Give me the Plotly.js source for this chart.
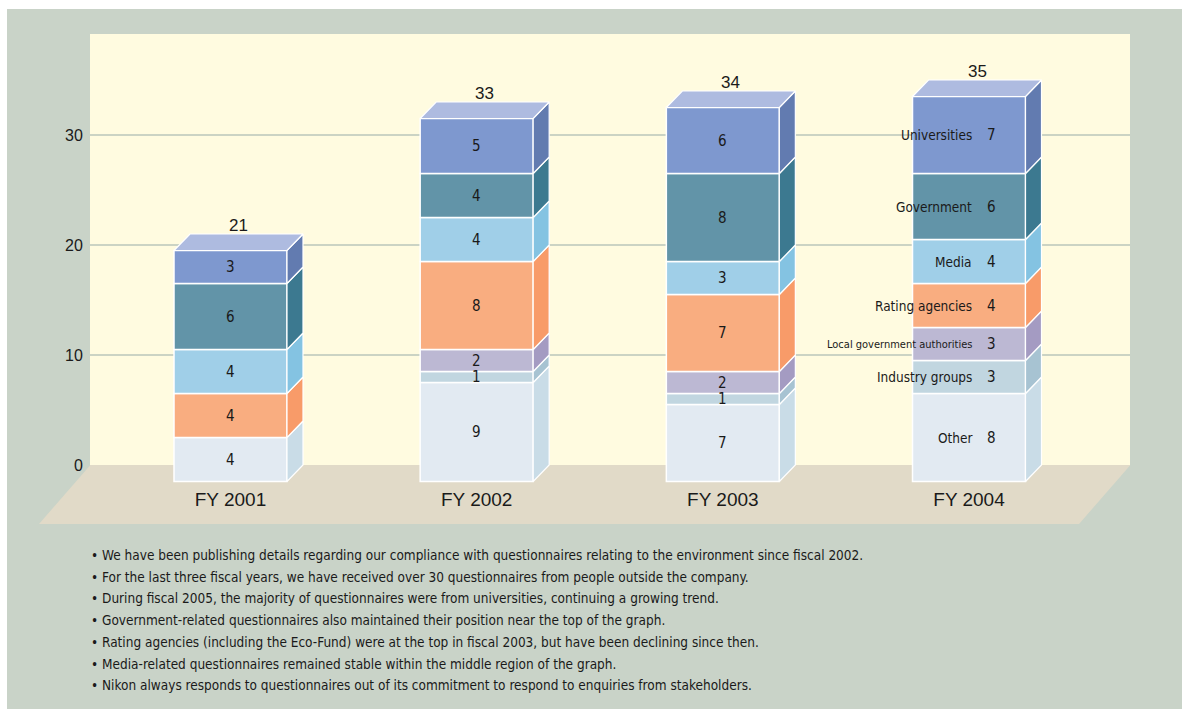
<!DOCTYPE html>
<html><head><meta charset="utf-8">
<script src="https://cdn.plot.ly/plotly-3.0.1.min.js"></script>
<style>
html,body{margin:0;padding:0;background:#ffffff;width:1182px;height:709px;overflow:hidden}
#chart{position:absolute;left:7px;top:9px;width:1175px;height:700px}
</style></head><body><div id="chart"></div>
<script>
// ---------- data ----------
const years = ['FY 2001', 'FY 2002', 'FY 2003', 'FY 2004'];
const categories = ['Other', 'Industry groups', 'Local government authorities', 'Rating agencies', 'Media', 'Government', 'Universities'];
const other = [4, 9, 7, 8];
const industryGroups = [0, 1, 1, 3];
const localGovernment = [0, 2, 2, 3];
const ratingAgencies = [4, 8, 7, 4];
const media = [4, 4, 3, 4];
const government = [6, 4, 8, 6];
const universities = [3, 5, 6, 7];
const yTickValues = [0, 10, 20, 30];
const notes = [
  '• We have been publishing details regarding our compliance with questionnaires relating to the environment since fiscal 2002.',
  '• For the last three fiscal years, we have received over 30 questionnaires from people outside the company.',
  '• During fiscal 2005, the majority of questionnaires were from universities, continuing a growing trend.',
  '• Government-related questionnaires also maintained their position near the top of the graph.',
  '• Rating agencies (including the Eco-Fund) were at the top in fiscal 2003, but have been declining since then.',
  '• Media-related questionnaires remained stable within the middle region of the graph.',
  '• Nikon always responds to questionnaires out of its commitment to respond to enquiries from stakeholders.'
];

// ---------- style ----------
const series = [other, industryGroups, localGovernment, ratingAgencies, media, government, universities];
const frontColors = ['#e2eaf2', '#c1d6e0', '#bcb8d3', '#f9ad80', '#a0cfe8', '#6294a8', '#7e98cf'];
const sideColors  = ['#c9dce7', '#a7c3d2', '#a49bc2', '#f89b69', '#84c3e2', '#3c7990', '#627bb0'];
const topColors   = ['#eef3f8', '#d6e5ec', '#d3cfe3', '#fbc9a8', '#c4e2f2', '#8ab2c2', '#aebbe0'];

const NARROW = '"Liberation Sans Narrow", "Arial Narrow", "DejaVu Sans Condensed", sans-serif';
const REG = '"Liberation Sans", Arial, sans-serif';
const INK = '#1a1a1a';

// geometry (pixels -> axis units)
const PX_X = 246.17, PX_Y = 11;
const X0 = -140.5 / PX_X, X1 = X0 + 1040 / PX_X;
const Y0 = -21 / PX_Y, Y1 = 431 / PX_Y;
const BW = 113 / PX_X, DX = 16 / PX_X, DY = 16.5 / PX_Y;
const PLOT_H = 452, PLOT_W = 1040, PLOT_BOTTOM = 486, PLOT_LEFT = 90;
const px2paperX = px => (px - PLOT_LEFT) / PLOT_W;
const px2paperY = py => (PLOT_BOTTOM - py) / PLOT_H;

const xIdx = years.map((_, i) => i);
const cum = years.map(() => 0);
const totals = years.map((_, i) => series.reduce((s, arr) => s + arr[i], 0));
const traces = [];
const annotations = [];

series.forEach((vals, k) => {
  const base = cum.map(c => c - DY);
  traces.push({
    type: 'bar', x: xIdx, y: vals.map(v => v > 0 ? v : null), base: base,
    width: BW, marker: {color: frontColors[k], line: {color: '#ffffff', width: 1.5}},
    hoverinfo: 'skip', showlegend: false
  });
  const sx = [], sy = [];
  vals.forEach((v, i) => {
    if (v <= 0) return;
    const xr = i + BW / 2, yb = cum[i] - DY, yt = cum[i] + v - DY;
    sx.push(xr, xr + DX, xr + DX, xr, xr, null);
    sy.push(yb, yb + DY, yt + DY, yt, yb, null);
    const yc = cum[i] + v / 2 - DY;
    if (i === years.length - 1) {
      annotations.push({x: i, y: yc, xref: 'x', yref: 'y', text: String(v), showarrow: false,
        xshift: 22, font: {family: NARROW, size: 15, color: INK}});
      annotations.push({x: i, y: yc, xref: 'x', yref: 'y', text: categories[k], showarrow: false,
        xanchor: 'right', xshift: 5,
        font: {family: NARROW, size: categories[k].length > 20 ? 11 : 13.5, color: INK}});
    } else {
      annotations.push({x: i, y: yc, xref: 'x', yref: 'y', text: String(v), showarrow: false,
        font: {family: NARROW, size: 15, color: INK}});
    }
  });
  traces.push({
    type: 'scatter', mode: 'lines', x: sx, y: sy, fill: 'toself', fillcolor: sideColors[k],
    line: {color: '#ffffff', width: 1.2}, hoverinfo: 'skip', showlegend: false
  });
  vals.forEach((v, i) => { cum[i] += v; });
});

// top faces and totals
years.forEach((_, i) => {
  let topK = 0;
  series.forEach((vals, k) => { if (vals[i] > 0) topK = k; });
  const xl = i - BW / 2, xr = i + BW / 2, yt = totals[i] - DY;
  traces.push({
    type: 'scatter', mode: 'lines', x: [xl, xl + DX, xr + DX, xr, xl], y: [yt, yt + DY, yt + DY, yt, yt],
    fill: 'toself', fillcolor: topColors[topK], line: {color: '#ffffff', width: 1.2},
    hoverinfo: 'skip', showlegend: false
  });
  annotations.push({x: i + DX / 2, y: totals[i], xref: 'x', yref: 'y', text: String(totals[i]),
    showarrow: false, yanchor: 'bottom', yshift: -3, font: {family: REG, size: 17, color: INK}});
});

// notes
notes.forEach((t, j) => {
  annotations.push({x: px2paperX(89), y: px2paperY(555 + j * 21.7), xref: 'paper', yref: 'paper',
    text: t, showarrow: false, xanchor: 'left', yanchor: 'middle', align: 'left',
    font: {family: NARROW, size: 13.5, color: INK}});
});

const floorBackY = px2paperY(465.5), floorFrontY = px2paperY(524);
const shapes = [
  {type: 'rect', xref: 'paper', yref: 'paper', x0: 0, x1: 1, y0: floorBackY, y1: 1,
   fillcolor: '#fffbe0', line: {width: 0}, layer: 'below'},
  {type: 'path', xref: 'paper', yref: 'paper', layer: 'below', fillcolor: '#e1dac8', line: {width: 0},
   path: `M0,${floorBackY} L1,${floorBackY} L${px2paperX(1079)},${floorFrontY} L${px2paperX(39)},${floorFrontY} Z`}
];

const layout = {
  width: 1175, height: 700,
  margin: {l: 83, r: 52, t: 25, b: 223, pad: 0},
  paper_bgcolor: '#c9d3c8', plot_bgcolor: 'rgba(0,0,0,0)',
  showlegend: false, barmode: 'overlay',
  xaxis: {range: [X0, X1], tickvals: xIdx, ticktext: years, showgrid: false, zeroline: false,
    showline: false, ticks: '', tickfont: {family: REG, size: 19, color: INK}, fixedrange: true},
  yaxis: {range: [Y0, Y1], tickvals: yTickValues, ticktext: yTickValues.map(String), showgrid: true,
    gridcolor: '#cbd3c4', gridwidth: 1.5, zeroline: true, zerolinecolor: '#e1dac8',
    showline: false, ticks: 'outside', ticklen: 3, tickcolor: 'rgba(0,0,0,0)',
    tickfont: {family: REG, size: 16, color: INK}, fixedrange: true},
  shapes: shapes,
  annotations: annotations
};

Plotly.newPlot('chart', traces, layout, {displayModeBar: false, staticPlot: true});
</script></body></html>
